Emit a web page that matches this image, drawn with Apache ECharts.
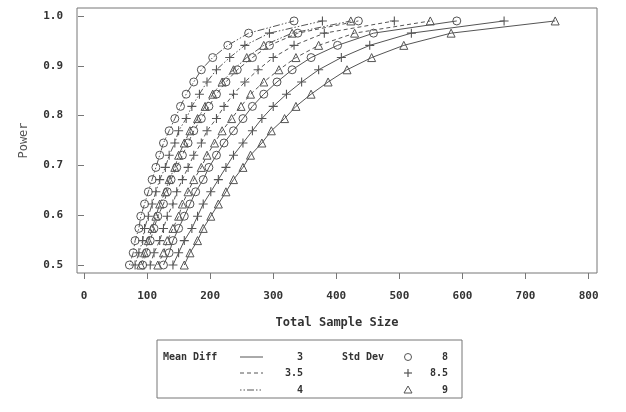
<!DOCTYPE html>
<html><head><meta charset="utf-8">
<script src="https://cdn.jsdelivr.net/npm/echarts@6/dist/echarts.min.js"></script>
<style>html,body{margin:0;padding:0;background:#fff}#c{width:626px;height:412px}</style>
</head><body><div id="c"></div>
<script>
// Power levels (y values) shared by all curves
const powerLevels = [0.5,0.5245,0.549,0.5735,0.598,0.6225,0.647,0.6715,0.696,0.7205,0.745,0.7695,0.794,0.8185,0.843,0.8675,0.892,0.9165,0.941,0.9655,0.99];
// Total sample sizes, one array per (Mean Diff, Std Dev)
const n_md3_sd8   = [126,135,141,150,159,168,177,189,198,210,222,237,252,267,285,306,330,360,402,459,591];
const n_md3_sd85  = [141,150,159,171,180,189,201,213,225,237,252,267,282,300,321,345,372,408,453,519,666];
const n_md3_sd9   = [159,168,180,189,201,213,225,237,252,264,282,297,318,336,360,387,417,456,507,582,747];
const n_md35_sd8  = [93,99,105,111,117,126,132,138,147,156,165,174,186,198,210,225,243,267,294,339,435];
const n_md35_sd85 = [105,111,120,126,132,141,147,156,165,174,186,195,210,222,237,255,276,300,333,381,492];
const n_md35_sd9  = [117,126,132,141,150,156,165,174,186,195,207,219,234,249,264,285,309,336,372,429,549];
const n_md4_sd8   = [72,78,81,87,90,96,102,108,114,120,126,135,144,153,162,174,186,204,228,261,333];
const n_md4_sd85  = [81,87,93,96,102,108,114,120,129,135,144,150,162,171,183,195,210,231,255,294,378];
const n_md4_sd9   = [90,96,102,108,114,120,129,135,144,150,159,168,180,192,204,219,237,258,285,330,423];
const xTicks = [0,100,200,300,400,500,600,700,800];
const yTicks = [0.5,0.6,0.7,0.8,0.9,1.0];
const meanDiffLabels = ['3','3.5','4'];
const stdDevLabels = ['8','8.5','9'];

const GRAY = '#555';
const FONT = 'DejaVu Sans Mono';
const PLUS = 'path://M4.4,0H5.6V4.4H10V5.6H5.6V10H4.4V5.6H0V4.4H4.4Z';
const dashStyles = ['solid', [4,3], [1.5,2,1.5,2,7,2]];
const symbols = ['circle', PLUS, 'triangle'];

const curves = [
  [n_md3_sd8,0,0],[n_md3_sd85,0,1],[n_md3_sd9,0,2],
  [n_md35_sd8,1,0],[n_md35_sd85,1,1],[n_md35_sd9,1,2],
  [n_md4_sd8,2,0],[n_md4_sd85,2,1],[n_md4_sd9,2,2]
];

const series = curves.map(([arr, mi, si]) => {
  const isPlus = si === 1;
  return {
    type: 'line',
    data: powerLevels.map((p, i) => [arr[i], p]),
    symbol: symbols[si],
    symbolSize: isPlus ? 9 : 8,
    showAllSymbol: true,
    lineStyle: { color: GRAY, width: 1, type: dashStyles[mi] },
    itemStyle: isPlus ? { color: GRAY } : { color: 'rgba(0,0,0,0)', borderColor: GRAY, borderWidth: 1 },
    emphasis: { disabled: true },
    silent: true,
    animation: false
  };
});

const chart = echarts.init(document.getElementById('c'), null, { renderer: 'canvas' });
const legendX = 157, legendY = 340;
const rows = [357, 373, 390];
const graphics = [
  { type: 'rect', shape: { x: legendX, y: legendY, width: 305, height: 58 }, style: { fill: 'none', stroke: '#777', lineWidth: 1 } },
  { type: 'text', x: 163, y: rows[0], style: { text: 'Mean Diff', font: 'bold 10px ' + FONT, fill: '#333', verticalAlign: 'middle' } },
  { type: 'text', x: 342, y: rows[0], style: { text: 'Std Dev', font: 'bold 10px ' + FONT, fill: '#333', verticalAlign: 'middle' } }
];
meanDiffLabels.forEach((t, i) => {
  graphics.push({ type: 'line', shape: { x1: 240, y1: rows[i], x2: 263, y2: rows[i] },
    style: { stroke: GRAY, lineWidth: 1, lineDash: dashStyles[i] === 'solid' ? null : dashStyles[i] } });
  graphics.push({ type: 'text', x: 303, y: rows[i], style: { text: t, font: 'bold 10px ' + FONT, fill: '#333', align: 'right', verticalAlign: 'middle' } });
});
stdDevLabels.forEach((t, i) => {
  graphics.push({ type: 'text', x: 448, y: rows[i], style: { text: t, font: 'bold 10px ' + FONT, fill: '#333', align: 'right', verticalAlign: 'middle' } });
});
graphics.push({ type: 'circle', shape: { cx: 408, cy: rows[0], r: 3.5 }, style: { fill: 'none', stroke: GRAY, lineWidth: 1 } });
graphics.push({ type: 'line', shape: { x1: 404, y1: rows[1], x2: 412, y2: rows[1] }, style: { stroke: GRAY, lineWidth: 1.2 } });
graphics.push({ type: 'line', shape: { x1: 408, y1: rows[1]-4, x2: 408, y2: rows[1]+4 }, style: { stroke: GRAY, lineWidth: 1.2 } });
graphics.push({ type: 'polygon', shape: { points: [[408, rows[2]-4],[412, rows[2]+3],[404, rows[2]+3]] }, style: { fill: 'none', stroke: GRAY, lineWidth: 1 } });

chart.setOption({
  animation: false,
  backgroundColor: '#fff',
  grid: { left: 77, top: 8, width: 520, height: 265, show: true, borderColor: '#777', borderWidth: 1, backgroundColor: 'transparent' },
  xAxis: {
    type: 'value', min: -11.1, max: 813.3,
    name: 'Total Sample Size', nameLocation: 'middle', nameGap: 44,
    nameTextStyle: { fontFamily: FONT, fontSize: 12, fontWeight: 'bold', color: '#333' },
    axisLine: { show: false },
    splitLine: { show: false },
    axisTick: { show: true, length: 6, customValues: xTicks, lineStyle: { color: '#777' } },
    axisLabel: { customValues: xTicks, margin: 18, fontFamily: FONT, fontSize: 11, fontWeight: 'bold', color: '#333', formatter: v => String(v) }
  },
  yAxis: {
    type: 'value', min: 0.484, max: 1.016,
    name: 'Power', nameLocation: 'middle', nameGap: 47, nameRotate: 90,
    nameTextStyle: { fontFamily: FONT, fontSize: 12, color: '#555' },
    axisLine: { show: false },
    splitLine: { show: false },
    axisTick: { show: true, length: 6, customValues: yTicks, lineStyle: { color: '#777' } },
    axisLabel: { customValues: yTicks, margin: 14, fontFamily: FONT, fontSize: 11, fontWeight: 'bold', color: '#333', formatter: v => v.toFixed(1) }
  },
  series: series,
  graphic: graphics
});
</script></body></html>
